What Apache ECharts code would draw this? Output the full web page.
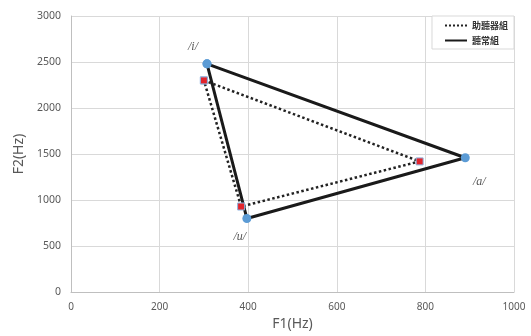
<!DOCTYPE html>
<html>
<head>
<meta charset="utf-8">
<script src="https://cdn.jsdelivr.net/npm/echarts@6/dist/echarts.min.js"></script>
<style>
  html, body { margin: 0; padding: 0; background: #fff; }
  #chart { width: 531px; height: 336px; }
</style>
</head>
<body>
<div id="chart"></div>
<script>
// vowel formant values (Hz)
const vowels = ['/i/', '/a/', '/u/'];
const normalF1 = [307, 890, 397];
const normalF2 = [2480, 1460, 800];
const aidF1 = [300, 787, 384];
const aidF2 = [2300, 1420, 930];
const xTicks = [0, 200, 400, 600, 800, 1000];
const yTicks = [0, 500, 1000, 1500, 2000, 2500, 3000];

// close the triangle by going back to the first vowel
function triangle(f1, f2) {
  const pts = f1.map((v, i) => ({ value: [v, f2[i]], name: vowels[i] }));
  pts.push({ value: [f1[0], f2[0]], name: '', label: { show: false } });
  return pts;
}

const labelOffsets = { '/i/': [-14, -17], '/a/': [14, 24], '/u/': [-7, 18] };

const chart = echarts.init(document.getElementById('chart'));
chart.setOption({
  animation: false,
  grid: { left: 71, right: 17, top: 16, bottom: 42 },
  legend: {
    orient: 'vertical',
    right: 17,
    top: 16,
    width: 91,
    padding: [5, 6, 4, 12],
    backgroundColor: '#fff',
    borderColor: '#d9d9d9',
    borderWidth: 1,
    itemWidth: 22,
    itemHeight: 8,
    itemGap: 6,
    itemStyle: { color: 'transparent', borderWidth: 0 },
    textStyle: { fontFamily: 'Noto Sans CJK TC', fontSize: 9, fontWeight: 'bold', color: '#333' },
    data: ['助聽器組', '聽常組']
  },
  xAxis: {
    type: 'value',
    min: xTicks[0],
    max: xTicks[xTicks.length - 1],
    interval: 200,
    name: 'F1(Hz)',
    nameLocation: 'middle',
    nameGap: 23,
    nameTextStyle: { fontFamily: 'Noto Sans', fontSize: 14, color: '#595959' },
    axisLine: { lineStyle: { color: '#bfbfbf' } },
    axisTick: { show: false },
    axisLabel: { fontFamily: 'Noto Sans', fontSize: 10, color: '#595959', margin: 10, formatter: v => String(v) },
    splitLine: { lineStyle: { color: '#d9d9d9' } }
  },
  yAxis: {
    type: 'value',
    min: yTicks[0],
    max: yTicks[yTicks.length - 1],
    interval: 500,
    name: 'F2(Hz)',
    nameLocation: 'middle',
    nameGap: 42,
    nameTextStyle: { fontFamily: 'Noto Sans', fontSize: 14, color: '#595959' },
    axisLine: { show: true, lineStyle: { color: '#bfbfbf' } },
    axisTick: { show: false },
    axisLabel: { fontFamily: 'Noto Sans', fontSize: 10.5, color: '#595959', margin: 10, formatter: v => String(v) },
    splitLine: { lineStyle: { color: '#d9d9d9' } }
  },
  series: [
    {
      name: '助聽器組',
      type: 'line',
      data: triangle(aidF1, aidF2),
      symbol: 'rect',
      symbolSize: 7,
      itemStyle: { color: '#e3242b', borderColor: '#8fb4e0', borderWidth: 1 },
      lineStyle: { color: '#222', width: 2.5, type: 'dotted' },
      z: 3
    },
    {
      name: '聽常組',
      type: 'line',
      data: triangle(normalF1, normalF2),
      symbol: 'circle',
      symbolSize: 9,
      itemStyle: { color: '#5b9bd5' },
      lineStyle: { color: '#1a1a1a', width: 3 },
      label: {
        show: true,
        formatter: p => p.name,
        fontFamily: 'Liberation Serif',
        fontStyle: 'italic',
        fontSize: 12,
        color: '#555',
        position: 'inside'
      },
      labelLayout: p => {
        const off = labelOffsets[p.text] || [0, 0];
        return { dx: off[0], dy: off[1] };
      },
      z: 2
    }
  ]
});
</script>
</body>
</html>
